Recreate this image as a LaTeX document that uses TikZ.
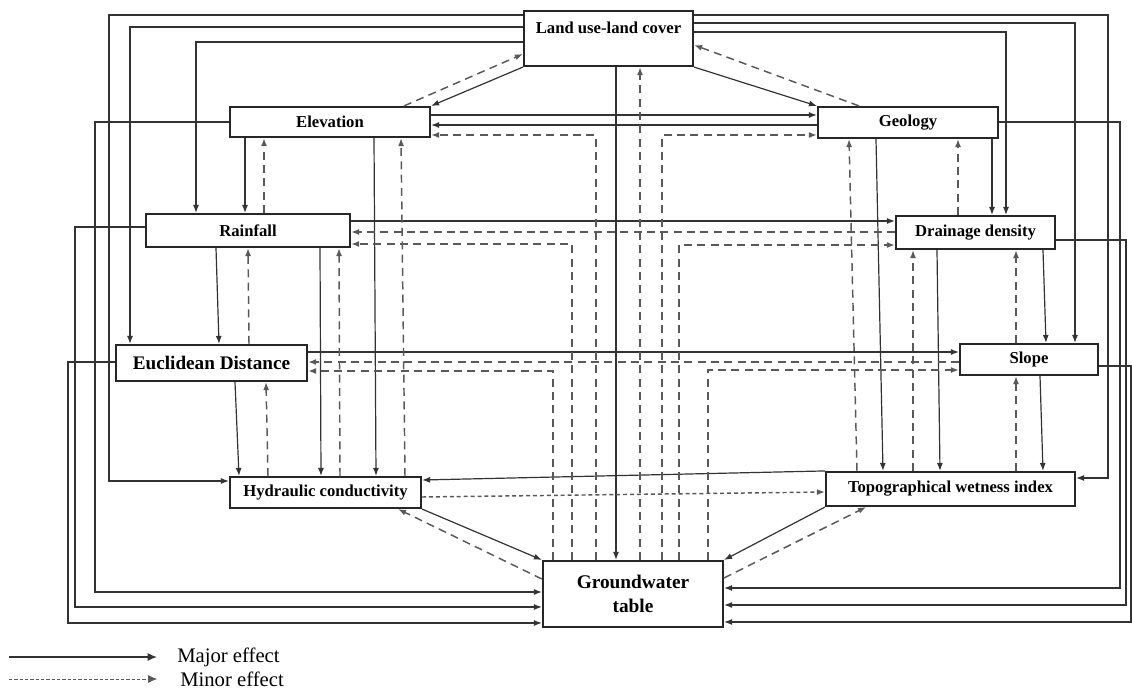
\documentclass[tikz,border=0pt]{standalone}
\usepackage{fontspec}
\setmainfont{Liberation Serif}
\usetikzlibrary{arrows.meta}

\begin{document}
\begin{tikzpicture}[x=0.75pt, y=-0.75pt,
    box/.style={draw=black!85, line width=1.6pt, fill=white, inner sep=0pt, font=\bfseries\fontsize{12.5}{15}\selectfont},
    major/.style={draw=black!80, line width=0.9pt, -{Latex[length=6pt,width=4.5pt]}},
    minor/.style={draw=black!65, line width=1.1pt, dash pattern=on 6pt off 4pt, -{Latex[length=6pt,width=4.5pt]}},
    minorfine/.style={minor, dash pattern=on 3pt off 2.2pt}]
    \useasboundingbox (0,0) rectangle (1132,689);

    \node[box, minimum width=126.75pt, minimum height=41.25pt, text depth=16pt] (lulc) at (608.5,38.5) {Land use-land cover};
    \node[box, minimum width=150pt, minimum height=22.5pt] (elev) at (330,122) {Elevation};
    \node[box, minimum width=135pt, minimum height=23.25pt] (geol) at (908,122.5) {Geology};
    \node[box, minimum width=153pt, minimum height=24.75pt] (rain) at (248,230.5) {Rainfall};
    \node[box, minimum width=119.25pt, minimum height=24.75pt] (drain) at (975.5,232.5) {Drainage density};
    \node[box, minimum width=143.25pt, minimum height=27pt, font=\bfseries\fontsize{14.4}{17}\selectfont] (eucl) at (211.5,363) {Euclidean Distance};
    \node[box, minimum width=103.5pt, minimum height=23.25pt] (slope) at (1029,359.5) {Slope};
    \node[box, minimum width=143.25pt, minimum height=23.25pt] (hydr) at (325.5,492.5) {Hydraulic conductivity};
    \node[box, minimum width=186.75pt, minimum height=25.5pt] (twi) at (950.5,489) {Topographical wetness index};
    \node[box, minimum width=135pt, minimum height=49.5pt, align=center, font=\bfseries\fontsize{14.5}{18}\selectfont] (gw) at (633,594) {Groundwater\\table};

    \draw[major] (lulc.west |- 0,15) -| (109,481) -- (hydr.west |- 0,481);
    \draw[major] (lulc.west |- 0,27) -| (eucl.north -| 130,0);
    \draw[major] (lulc.west |- 0,42) -| (rain.north -| 196,0);
    \draw[major] (lulc.east |- 0,15) -| (1108,478) -- (twi.east |- 0,478);
    \draw[major] (lulc.east |- 0,23) -| (slope.north -| 1075,0);
    \draw[major] (lulc.east |- 0,32) -| (drain.north -| 1006,0);
    \draw[major] (lulc.south west) -- (elev.north east);
    \draw[major] (lulc.south east) -- (geol.north west);
    \draw[major] (lulc.south -| 616,0) -- (gw.north -| 616,0);

    \draw[major] (elev.east |- 0,115) -- (geol.west |- 0,115);
    \draw[major] (geol.west |- 0,125) -- (elev.east |- 0,125);
    \draw[major] (rain.east |- 0,221) -- (drain.west |- 0,221);
    \draw[major] (eucl.east |- 0,352) -- (slope.west |- 0,352);
    \draw[major] (twi.north west) -- (hydr.east |- 0,480);

    \foreach \a/\b/\x/\y in {elev/rain/245/245, elev/hydr/374/376, rain/eucl/216/219, rain/hydr/320/321, eucl/hydr/235/239,
        geol/twi/876/883, geol/drain/992/992, drain/twi/937/940, drain/slope/1043/1046, slope/twi/1040/1043}
        \draw[major] (\a.south -| \x,0) -- (\b.north -| \y,0);
    \foreach \a/\b/\x/\y in {rain/elev/264/264, hydr/elev/405/401, eucl/rain/249/248, hydr/rain/340/339, hydr/eucl/268/266,
        twi/geol/857/849, drain/geol/958/958, twi/drain/913/913, slope/drain/1016/1016, twi/slope/1016/1016}
        \draw[minor] (\a.north -| \x,0) -- (\b.south -| \y,0);

    \foreach \a/\y/\x/\t in {elev/122/95/592, rain/227/75/607, eucl/362/68/623}
        \draw[major] (\a.west |- 0,\y) -| (\x,\t) -- (gw.west |- 0,\t);
    \foreach \a/\y/\x/\t in {geol/122/1120/588, drain/240/1126/605, slope/366/1131/622}
        \draw[major] (\a.east |- 0,\y) -| (\x,\t) -- (gw.east |- 0,\t);

    \draw[major] (hydr.south east) -- (gw.north west);
    \draw[major] (twi.south west) -- (gw.north east);
    \draw[minor] (gw.west |- 0,579) -- (hydr.south -| 398,0);
    \draw[minor] (gw.east |- 0,578) -- (twi.south -| 866,0);
    \draw[minor] (elev.north -| 404,0) -- (lulc.west |- 0,54);
    \draw[minor] (geol.north -| 859,0) -- (lulc.east |- 0,45);
    \draw[minor] (drain.west |- 0,232) -- (rain.east |- 0,232);
    \draw[minor] (slope.west |- 0,362) -- (eucl.east |- 0,362);
    \draw[minorfine] (hydr.east |- 0,497) -- (twi.west |- 0,492);
    \draw[minor] (gw.north -| 640,0) -- (lulc.south -| 640,0);
    \foreach \a/\x/\y in {elev.east/596/135, rain.east/572/244, eucl.east/553/371, geol.west/662/135, drain.west/679/245, slope.west/708/370}
        \draw[minor] (gw.north -| \x,0) |- (\a |- 0,\y);

    \coordinate (majstart) at (9,657);
    \coordinate (minstart) at (9,679);
    \node[anchor=west, inner sep=0pt, font=\fontsize{15.5}{18}\selectfont] (majlab) at (177,657) {Major effect};
    \node[anchor=west, inner sep=0pt, font=\fontsize{15.5}{18}\selectfont] (minlab) at (180,679) {Minor effect};
    \draw[major, -{Latex[length=7pt,width=6pt]}] (majstart) -- ([xshift=-15pt]majlab.west);
    \draw[minor, line width=0.7pt, dash pattern=on 2.5pt off 1.5pt, -{Latex[length=7pt,width=6pt]}] (minstart) -- ([xshift=-17pt]minlab.west);
\end{tikzpicture}
\end{document}
